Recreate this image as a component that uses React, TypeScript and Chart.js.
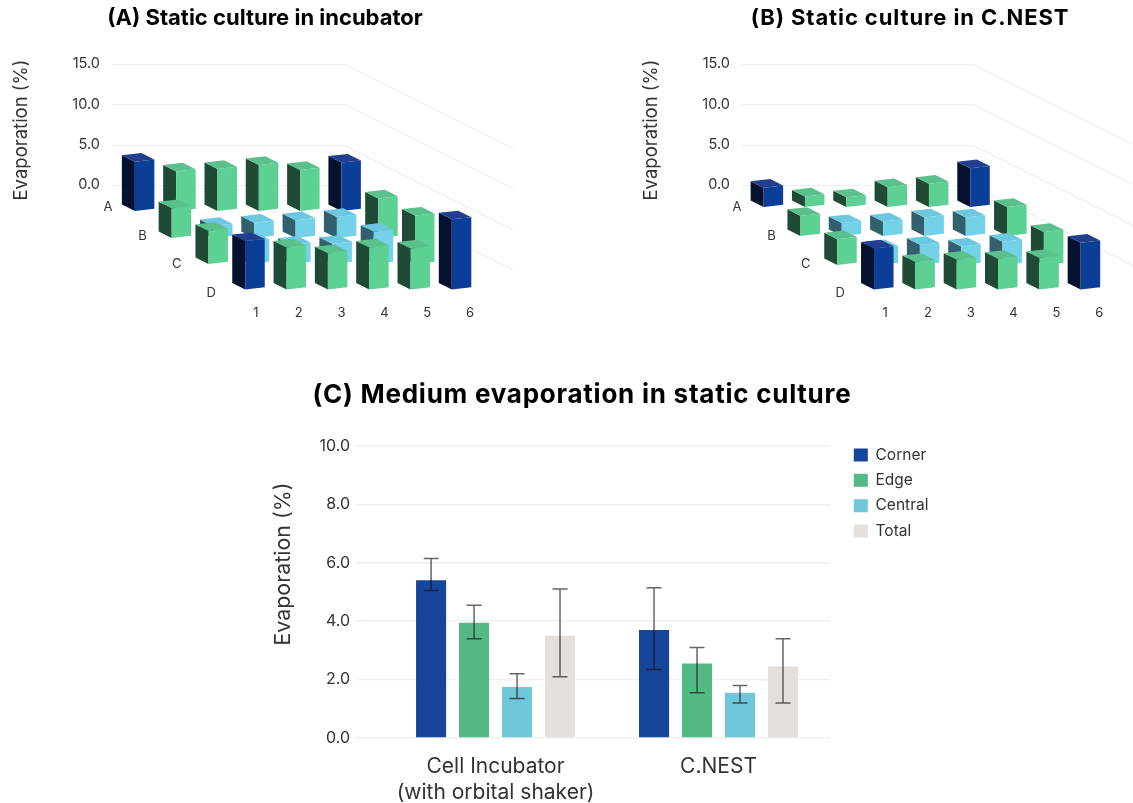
import React, { useEffect, useRef } from "react";
import { Chart, registerables } from "chart.js";

Chart.register(...registerables);

const FONT = "Inter";

const COLUMNS = [1, 2, 3, 4, 5, 6];
const ROWS = ["A", "B", "C", "D"];
const AXIS_TICKS_3D = [0, 5, 10, 15];

// Panel A - evaporation (%) per well
const incubatorA = [6.1, 4.9, 5.2, 5.7, 5.1, 6.0];
const incubatorB = [3.7, 1.5, 1.9, 2.2, 2.6, 4.9];
const incubatorC = [4.1, 2.8, 2.4, 2.5, 4.0, 6.0];
const incubatorD = [6.0, 5.2, 4.5, 5.2, 5.1, 8.7];

// Panel B - evaporation (%) per well
const nestA = [2.4, 1.3, 1.2, 2.45, 2.9, 4.8];
const nestB = [2.5, 1.6, 1.8, 2.3, 2.3, 3.6];
const nestC = [3.2, 2.1, 2.5, 2.3, 2.9, 4.1];
const nestD = [5.1, 3.4, 3.7, 3.8, 3.9, 5.8];

// Panel C
const GROUPS = [["Cell Incubator", "(with orbital shaker)"], ["C.NEST"]];
const SERIES = ["Corner", "Edge", "Central", "Total"];
const cornerValues = [5.4, 3.7];
const edgeValues = [3.95, 2.55];
const centralValues = [1.75, 1.55];
const totalValues = [3.5, 2.45];
const cornerLow = [5.05, 2.35];
const cornerHigh = [6.15, 5.15];
const edgeLow = [3.4, 1.55];
const edgeHigh = [4.55, 3.1];
const centralLow = [1.35, 1.2];
const centralHigh = [2.2, 1.8];
const totalLow = [2.1, 1.2];
const totalHigh = [5.1, 3.4];

const SHADES: Record<string, { front: string; side: string; top: string }> = {
  corner: { front: "#0b3f97", side: "#04122f", top: "#213f8e" },
  edge: { front: "#5dd094", side: "#1f4b36", top: "#5bc18c" },
  central: { front: "#74d2e8", side: "#33606f", top: "#6cc8e0" },
};

function kindOf(row: number, col: number) {
  const rowEdge = row === 0 || row === ROWS.length - 1;
  const colEdge = col === 0 || col === COLUMNS.length - 1;
  if (rowEdge && colEdge) return "corner";
  if (rowEdge || colEdge) return "edge";
  return "central";
}

type Geometry = {
  rowBase: number[];
  rowStep: number;
  perspective: number;
  dx: number;
  apexValue: number;
};

function poly(ctx: CanvasRenderingContext2D, pts: number[][], color: string) {
  ctx.fillStyle = color;
  ctx.beginPath();
  pts.forEach((p, i) => (i ? ctx.lineTo(p[0], p[1]) : ctx.moveTo(p[0], p[1])));
  ctx.closePath();
  ctx.fill();
}

function floorPlugin(g: Geometry) {
  const W = 19.5;
  const FRONT_DY = -2.2;
  const SIDE_X = -13;
  const SIDE_Y = -6.5;
  return {
    id: "floor3d",
    beforeDatasetDraw: () => false,
    beforeDatasetsDraw(chart: any) {
      const { ctx, chartArea, scales } = chart;
      const sx = scales.x;
      const sy = scales.y;
      const x1 = sx.getPixelForValue(1);
      const apex = sx.getPixelForValue(g.apexValue);
      ctx.save();
      ctx.strokeStyle = "#eeeeee";
      ctx.lineWidth = 1.2;
      sy.ticks.forEach((t: any) => {
        const y = Math.round(sy.getPixelForValue(t.value)) + 0.5;
        ctx.beginPath();
        ctx.moveTo(chartArea.left, y);
        ctx.lineTo(apex, y);
        ctx.lineTo(chartArea.right, y + 0.5 * (chartArea.right - apex));
        ctx.stroke();
      });
      ctx.fillStyle = "#333";
      ctx.font = `13px ${FONT}`;
      ctx.textAlign = "center";
      ctx.textBaseline = "middle";
      ROWS.forEach((label, r) => {
        ctx.fillText(label, x1 - 148 + r * 34.4, sy.getPixelForValue(0) + 22 + r * 28.7);
      });
      ROWS.forEach((_, r) => {
        const meta = chart.getDatasetMeta(r);
        meta.data.forEach((el: any, c: number) => {
          const left = x1 + (el.x - x1) * g.perspective + (r - 3) * g.rowStep - W / 2 + g.dx;
          const base = el.base + g.rowBase[r];
          const h = el.base - el.y;
          const top = base - h;
          const s = SHADES[kindOf(r, c)];
          poly(ctx, [[left, base], [left, top], [left + SIDE_X, top + SIDE_Y], [left + SIDE_X, base + SIDE_Y]], s.side);
          poly(ctx, [[left, base], [left + W, base + FRONT_DY], [left + W, top + FRONT_DY], [left, top]], s.front);
          poly(ctx, [[left, top], [left + W, top + FRONT_DY], [left + W + SIDE_X, top + FRONT_DY + SIDE_Y], [left + SIDE_X, top + SIDE_Y]], s.top);
        });
      });
      ctx.restore();
    },
  };
}

function panel3dConfig(rows: number[][], g: Geometry, xMin: number, xMax: number, rightPad: number, yWidth: number, titlePad: number): any {
  return {
    type: "bar",
    data: {
      datasets: rows.map((vals, r) => ({
        label: ROWS[r],
        data: vals.map((v, c) => ({ x: COLUMNS[c], y: v })),
        backgroundColor: vals.map((_, c) => SHADES[kindOf(r, c)].front),
        barThickness: 20,
        grouped: false,
      })),
    },
    options: {
      animation: false,
      responsive: false,
      layout: { padding: { top: 64, left: 0, right: rightPad, bottom: 10 } },
      plugins: { legend: { display: false }, tooltip: { enabled: false } },
      scales: {
        x: {
          type: "linear",
          offset: false,
          min: xMin,
          max: xMax,
          grid: { display: false, offset: false },
          border: { display: false },
          afterBuildTicks: (s: any) => {
            s.ticks = COLUMNS.map((v) => ({ value: v }));
          },
          afterFit: (s: any) => {
            s.height = 134;
            s.paddingLeft = 0;
            s.paddingRight = 0;
          },
          ticks: {
            padding: 101,
            autoSkip: false,
            maxRotation: 0,
            color: "#333",
            font: { family: FONT, size: 13 },
          },
        },
        y: {
          type: "linear",
          min: -1.36,
          max: 15,
          grid: { display: false },
          border: { display: false },
          afterBuildTicks: (s: any) => {
            s.ticks = AXIS_TICKS_3D.map((v) => ({ value: v }));
          },
          afterFit: (s: any) => {
            s.width = yWidth;
          },
          ticks: {
            padding: 4,
            color: "#333",
            font: { family: FONT, size: 14.5 },
            callback: (v: number) => v.toFixed(1),
          },
          title: {
            display: true,
            text: "Evaporation (%)",
            color: "#333",
            padding: { top: titlePad, bottom: 0 },
            font: { family: FONT, size: 18.5 },
          },
        },
      },
    },
    plugins: [floorPlugin(g)],
  };
}

const errorBars = {
  id: "errorBars",
  afterDatasetsDraw(chart: any) {
    const { ctx, scales } = chart;
    const lows = [cornerLow, edgeLow, centralLow, totalLow];
    const highs = [cornerHigh, edgeHigh, centralHigh, totalHigh];
    ctx.save();
    ctx.strokeStyle = "rgba(20,20,20,0.65)";
    ctx.lineWidth = 1.5;
    SERIES.forEach((_, d) => {
      chart.getDatasetMeta(d).data.forEach((el: any, i: number) => {
        const x = el.x;
        const yl = scales.y.getPixelForValue(lows[d][i]);
        const yh = scales.y.getPixelForValue(highs[d][i]);
        ctx.beginPath();
        ctx.moveTo(x, yl);
        ctx.lineTo(x, yh);
        ctx.moveTo(x - 7.5, yl);
        ctx.lineTo(x + 7.5, yl);
        ctx.moveTo(x - 7.5, yh);
        ctx.lineTo(x + 7.5, yh);
        ctx.stroke();
      });
    });
    ctx.restore();
  },
};

const placeLegend = {
  id: "placeLegend",
  afterLayout(chart: any) {
    const l = chart.legend;
    l.left = 584;
    l.right = 700;
    l.top = 67.5;
    l.bottom = 200;
    l.width = 116;
    l.height = 132.5;
  },
};

const barConfig: any = {
  type: "bar",
  data: {
    datasets: [cornerValues, edgeValues, centralValues, totalValues].map((vals, d) => ({
      label: SERIES[d],
      data: vals.map((v, i) => ({ x: i, y: v })),
      backgroundColor: ["#16469b", "#55b985", "#70c7d9", "#e6e0dd"][d],
      categoryPercentage: 0.771,
      barPercentage: 0.7,
    })),
  },
  options: {
    animation: false,
    responsive: false,
    layout: { padding: { top: 20, right: 130, left: 0, bottom: 0 } },
    plugins: {
      tooltip: { enabled: false },
      legend: {
        position: "chartArea",
        align: "start",
        labels: {
          boxWidth: 14,
          boxHeight: 13,
          padding: 9.8,
          color: "#333",
          font: { family: FONT, size: 15.5 },
        },
      },
    },
    scales: {
      x: {
        type: "linear",
        offset: false,
        min: -0.59,
        max: 1.5,
        grid: { display: false, offset: false },
        border: { display: false },
        afterBuildTicks: (s: any) => {
          s.ticks = GROUPS.map((_, i) => ({ value: i }));
        },
        afterFit: (s: any) => {
          s.height = 65;
        },
        ticks: {
          padding: 8,
          autoSkip: false,
          maxRotation: 0,
          color: "#333",
          font: { family: FONT, size: 21, lineHeight: 1.24 },
          callback: (v: number) => GROUPS[v],
        },
      },
      y: {
        type: "linear",
        min: 0,
        max: 11.92,
        grid: { color: "#f0f0f0", lineWidth: 1.5 },
        border: { display: false },
        afterBuildTicks: (s: any) => {
          s.ticks = [0, 2, 4, 6, 8, 10].map((v) => ({ value: v }));
        },
        afterFit: (s: any) => {
          s.width = 104;
        },
        ticks: {
          padding: 6,
          color: "#333",
          font: { family: FONT, size: 16 },
          callback: (v: number) => v.toFixed(1),
        },
        title: {
          display: true,
          text: "Evaporation (%)",
          color: "#333",
          padding: { top: 11, bottom: 0 },
          font: { family: FONT, size: 21.4 },
        },
      },
    },
  },
  plugins: [errorBars, placeLegend],
};

const titleStyle = (cx: number, y: number, size: number, spacing: number): React.CSSProperties => ({
  position: "absolute",
  left: cx - 400,
  width: 800,
  top: y,
  textAlign: "center",
  fontFamily: FONT,
  fontWeight: 700,
  fontSize: size,
  letterSpacing: spacing,
  lineHeight: "30px",
  color: "#000",
});

function Panel({ config, left, top, width, height }: any) {
  const ref = useRef<HTMLCanvasElement>(null);
  useEffect(() => {
    const chart = new Chart(ref.current as HTMLCanvasElement, config);
    return () => chart.destroy();
  }, [config]);
  return <canvas ref={ref} width={width} height={height} style={{ position: "absolute", left, top, width, height }} />;
}

const configA = panel3dConfig(
  [incubatorA, incubatorB, incubatorC, incubatorD],
  { rowBase: [26, 53, 79, 104.5], rowStep: 36.8, perspective: 0.965, dx: -1, apexValue: 3.08 },
  -2.364,
  7.05,
  15,
  112,
  10
);
const configB = panel3dConfig(
  [nestA, nestB, nestC, nestD],
  { rowBase: [22, 51, 80, 104.5], rowStep: 36.8, perspective: 0.965, dx: -1.25, apexValue: 3.06 },
  -2.34,
  6.79,
  0,
  122,
  20
);

export default function App() {
  return (
    <div style={{ position: "fixed", left: 0, top: 0, width: 1133, height: 803, background: "#fff", overflow: "hidden" }}>
      <Panel config={configA} left={0} top={0} width={530} height={340} />
      <Panel config={configB} left={620} top={0} width={513} height={340} />
      <Panel config={barConfig} left={260} top={370} width={700} height={433} />
      <div style={titleStyle(265, 2, 22, 0)}>(A) Static culture in incubator</div>
      <div style={titleStyle(910, 2, 22, 0.9)}>(B) Static culture in C.NEST</div>
      <div style={titleStyle(582, 379, 26, 0.75)}>(C) Medium evaporation in static culture</div>
    </div>
  );
}
